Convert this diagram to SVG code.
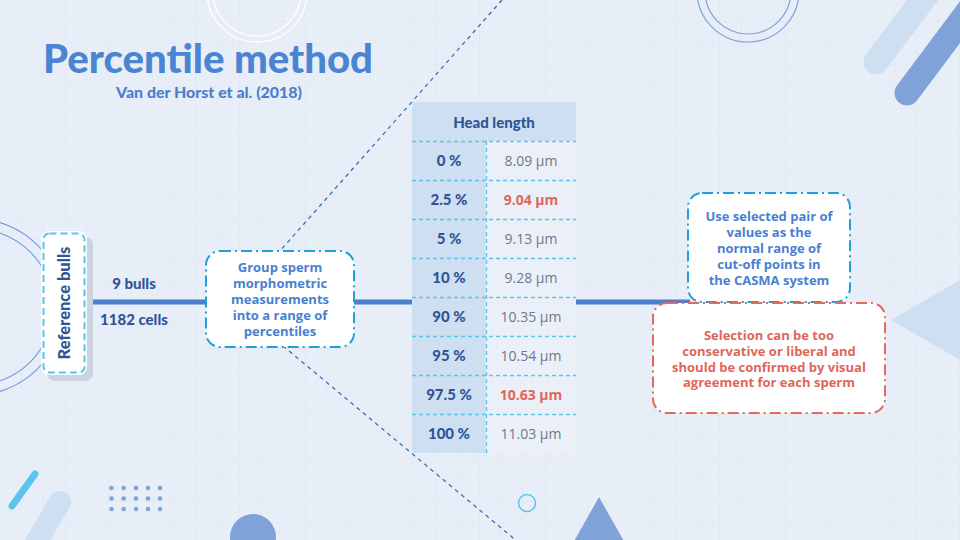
<svg xmlns="http://www.w3.org/2000/svg" width="960" height="540" viewBox="0 0 960 540">
<defs>
<pattern id="grid" width="21.818" height="21.818" patternUnits="userSpaceOnUse" x="0" y="0">
<path d="M21.818 0V21.818M0 21.818H21.818" fill="none" stroke="#dfe6f0" stroke-width="1.2"/>
</pattern>
<style>
.round{font-family:Lato,"Open Sans","Liberation Sans",sans-serif;font-weight:900}
.body{font-family:"Open Sans","Liberation Sans",sans-serif;font-weight:700;font-size:13px;text-anchor:middle}
.blue{fill:#4a7fd0}
.navy{fill:#2f5597}
.red{fill:#e0665a}
.node{fill:#ffffff;stroke-width:2;stroke-dasharray:11 4 2 4}
.deco{fill:#7fa3d9}
.dline{stroke:#3f6fb5;stroke-width:1.3;stroke-dasharray:4 4;fill:none}
.conn{stroke:#4a80cc;stroke-width:5;fill:none}
.hd{stroke:#5bc4ec;stroke-width:1.3;stroke-dasharray:4 3;fill:none}
.pc{font-family:Lato,"Open Sans",sans-serif;font-weight:900;font-size:15px;fill:#2f5597;text-anchor:middle}
.val{font-family:"Open Sans","Liberation Sans",sans-serif;font-size:14px;fill:#6b7890;text-anchor:middle}
.hi{font-weight:700;fill:#e0665a}
</style>
</defs>
<rect width="960" height="540" fill="#e8eef7"/>
<rect width="960" height="540" fill="url(#grid)"/>

<g id="decorations">
<circle cx="257" cy="-8" r="50" fill="none" stroke="#ffffff" stroke-width="1.3"/>
<circle cx="257" cy="-8" r="44" fill="none" stroke="#ffffff" stroke-width="1.3"/>
<circle cx="748" cy="-9" r="51" fill="none" stroke="#7fa3dc" stroke-width="1.2"/>
<circle cx="748" cy="-9" r="43" fill="none" stroke="#7fa3dc" stroke-width="1.2"/>
<line x1="876" y1="62" x2="930" y2="-10" stroke="#cfdff2" stroke-width="25" stroke-linecap="round"/>
<line x1="907" y1="93" x2="975" y2="2" stroke="#7fa3d9" stroke-width="25" stroke-linecap="round"/>
<circle cx="-25" cy="307" r="88" fill="none" stroke="#6d9ae0" stroke-width="1.1"/>
<circle cx="-25" cy="307" r="78" fill="none" stroke="#6d9ae0" stroke-width="1.1"/>
<polygon points="891,320 960,280 960,360" fill="#cfdff2"/>
<line x1="60" y1="502" x2="28" y2="556" stroke="#cfdff2" stroke-width="22" stroke-linecap="round"/>
<line x1="12" y1="506" x2="35" y2="474" stroke="#5bc4ec" stroke-width="7" stroke-linecap="round"/>
<g class="deco">
<circle cx="111.5" cy="488" r="2.3"/><circle cx="123.7" cy="488" r="2.3"/><circle cx="136" cy="488" r="2.3"/><circle cx="148" cy="488" r="2.3"/><circle cx="160" cy="488" r="2.3"/>
<circle cx="111.5" cy="498.5" r="2.3"/><circle cx="123.7" cy="498.5" r="2.3"/><circle cx="136" cy="498.5" r="2.3"/><circle cx="148" cy="498.5" r="2.3"/><circle cx="160" cy="498.5" r="2.3"/>
<circle cx="111.5" cy="509" r="2.3"/><circle cx="123.7" cy="509" r="2.3"/><circle cx="136" cy="509" r="2.3"/><circle cx="148" cy="509" r="2.3"/><circle cx="160" cy="509" r="2.3"/>
</g>
<circle cx="253" cy="537" r="23" fill="#7fa3d9"/>
<circle cx="527" cy="503" r="8.5" fill="none" stroke="#5bc4ec" stroke-width="1.5"/>
<polygon points="599,497 568,552 630,552" fill="#7fa3d9"/>
<line class="dline" x1="502" y1="0" x2="272" y2="260"/>
<line class="dline" x1="283" y1="346" x2="518" y2="542"/>
</g>

<g id="title">
<text x="208" y="73" class="round" font-size="40" text-anchor="middle" fill="#4a84d2" textLength="330" lengthAdjust="spacingAndGlyphs">Percentile method</text>
<text x="209" y="98" class="round" font-size="15" text-anchor="middle" fill="#4a7fd0" textLength="186" lengthAdjust="spacingAndGlyphs">Van der Horst et al. (2018)</text>
</g>

<g id="connectors">
<line class="conn" x1="88" y1="302" x2="207" y2="302"/>
<line class="conn" x1="353" y1="302" x2="690" y2="302"/>
</g>

<g id="edge-labels">
<text x="134" y="289" class="round navy" font-size="15" text-anchor="middle">9 bulls</text>
<text x="134" y="325" class="round navy" font-size="15" text-anchor="middle">1182 cells</text>
</g>

<g id="node-reference">
<rect x="47" y="237" width="46" height="144" rx="8" fill="#c9d4e0"/>
<rect x="41" y="231" width="46" height="144" rx="8" fill="#ffffff"/>
<rect x="43.5" y="233.5" width="41" height="139" rx="6" fill="none" stroke="#5bc4ec" stroke-width="2" stroke-dasharray="7 4"/>
<text transform="translate(70 303) rotate(-90)" class="round navy" font-size="16.5" text-anchor="middle">Reference bulls</text>
</g>

<g id="node-group">
<rect class="node" x="206" y="251" width="148" height="96" rx="14" stroke="#1fa0d8"/>
<text class="body blue"><tspan x="280" y="272">Group sperm</tspan><tspan x="280" y="288">morphometric</tspan><tspan x="280" y="304">measurements</tspan><tspan x="280" y="320">into a range of</tspan><tspan x="280" y="336">percentiles</tspan></text>
</g>

<g id="node-table">
<rect x="412" y="102" width="164" height="39" fill="#cfdff2"/>
<rect x="412" y="141" width="74" height="312" fill="#cfdff2"/>
<rect x="486" y="141" width="90" height="312" fill="#ebf0f8"/>
<text x="494" y="128" class="pc">Head length</text>
<line class="hd" x1="412" y1="141.5" x2="576" y2="141.5"/>
<line class="hd" x1="412" y1="180.5" x2="576" y2="180.5"/>
<line class="hd" x1="412" y1="219.5" x2="576" y2="219.5"/>
<line class="hd" x1="412" y1="258.5" x2="576" y2="258.5"/>
<line class="hd" x1="412" y1="297.5" x2="576" y2="297.5"/>
<line class="hd" x1="412" y1="336.5" x2="576" y2="336.5"/>
<line class="hd" x1="412" y1="375.5" x2="576" y2="375.5"/>
<line class="hd" x1="412" y1="414.5" x2="576" y2="414.5"/>
<line class="hd" x1="486.5" y1="141" x2="486.5" y2="453"/>
<text x="449" y="166" class="pc">0 %</text>
<text x="449" y="205" class="pc">2.5 %</text>
<text x="449" y="244" class="pc">5 %</text>
<text x="449" y="283" class="pc">10 %</text>
<text x="449" y="322" class="pc">90 %</text>
<text x="449" y="361" class="pc">95 %</text>
<text x="449" y="400" class="pc">97.5 %</text>
<text x="449" y="439" class="pc">100 %</text>
<text x="531" y="166" class="val">8.09 µm</text>
<text x="531" y="205" class="val hi">9.04 µm</text>
<text x="531" y="244" class="val">9.13 µm</text>
<text x="531" y="283" class="val">9.28 µm</text>
<text x="531" y="322" class="val">10.35 µm</text>
<text x="531" y="361" class="val">10.54 µm</text>
<text x="531" y="400" class="val hi">10.63 µm</text>
<text x="531" y="439" class="val">11.03 µm</text>
</g>

<g id="node-use">
<rect class="node" x="688" y="193" width="162" height="109" rx="14" stroke="#1fa0d8"/>
<text class="body blue"><tspan x="769" y="221">Use selected pair of</tspan><tspan x="769" y="237">values as the</tspan><tspan x="769" y="253">normal range of</tspan><tspan x="769" y="269">cut-off points in</tspan><tspan x="769" y="285">the CASMA system</tspan></text>
</g>

<g id="node-selection">
<rect class="node" x="653" y="303" width="232" height="110" rx="14" stroke="#e06b5e"/>
<text class="body red"><tspan x="769" y="340">Selection can be too</tspan><tspan x="769" y="356">conservative or liberal and</tspan><tspan x="769" y="372">should be confirmed by visual</tspan><tspan x="769" y="387">agreement for each sperm</tspan></text>
</g>
</svg>
